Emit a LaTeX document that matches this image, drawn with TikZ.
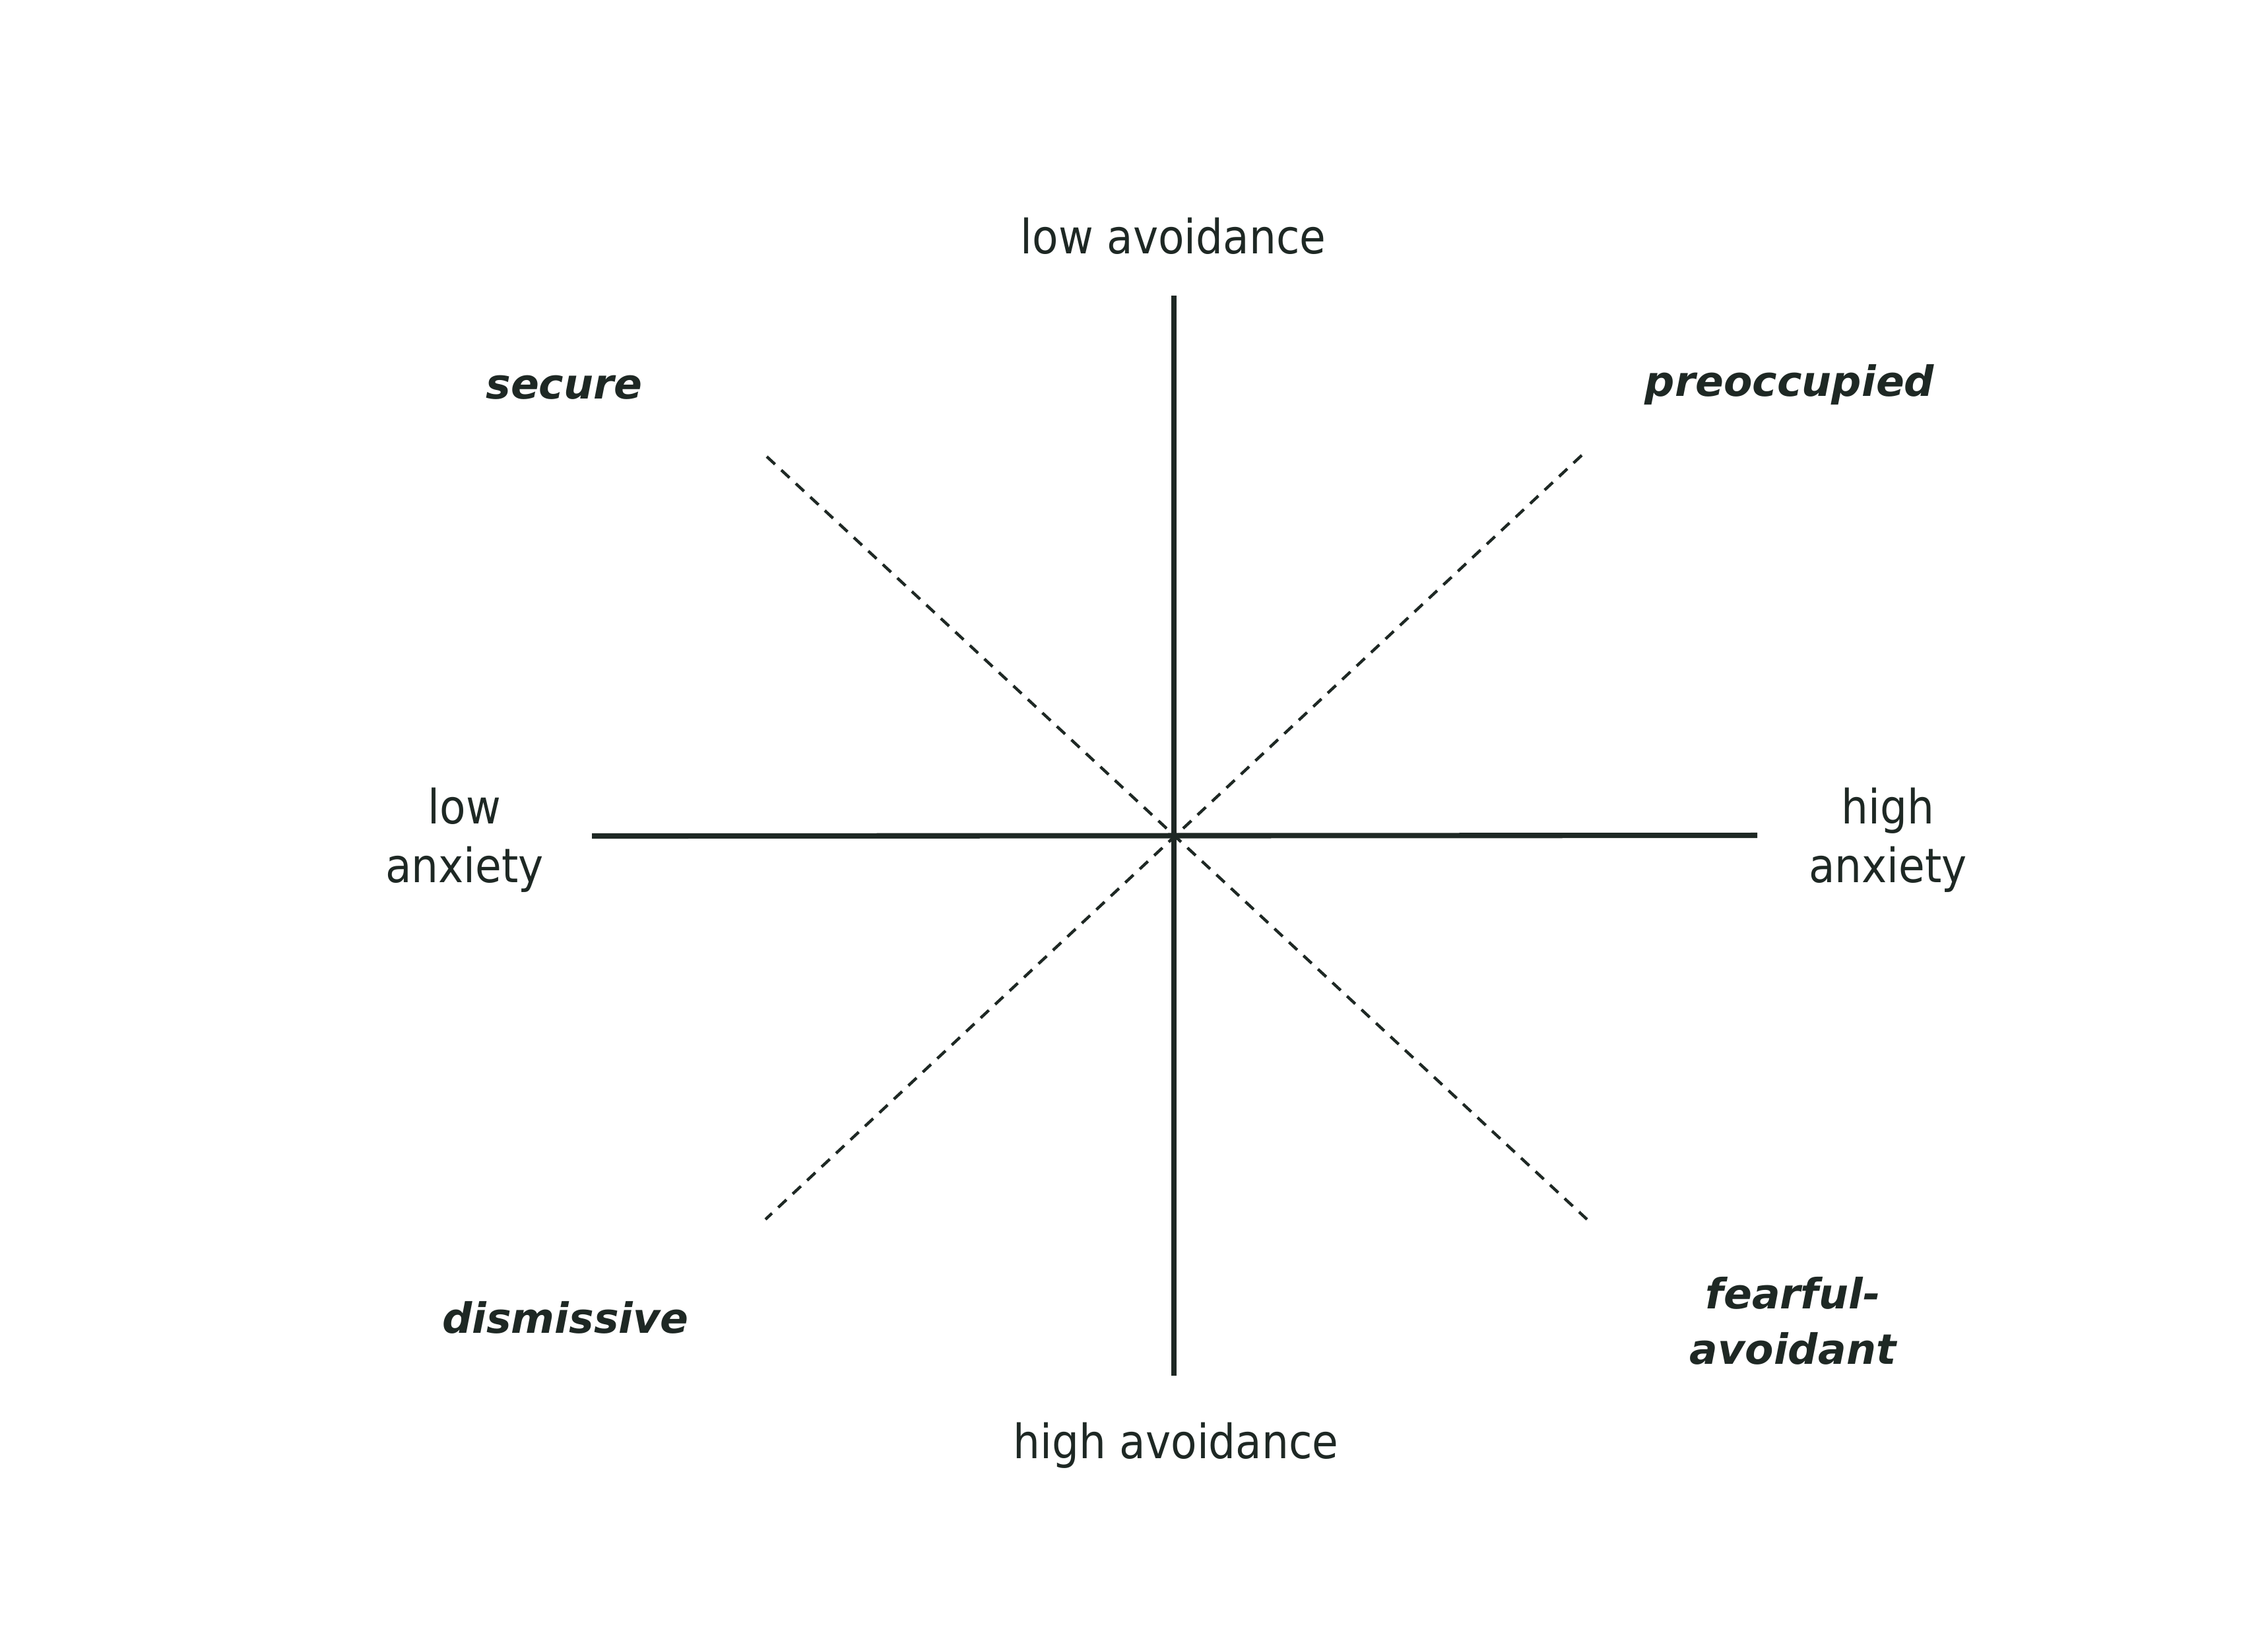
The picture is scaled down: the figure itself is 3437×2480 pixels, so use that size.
\documentclass[tikz,border=0pt]{standalone}
\usepackage{fontspec}
\setmainfont{DejaVu Sans}
\newfontfamily\regfont{DejaVu Sans}[FakeStretch=0.9]
\newfontfamily\lblfont{DejaVu Sans}
\definecolor{ink}{RGB}{30,40,36}
\tikzset{
  axis/.style={draw=ink, line width=2.3pt},
  diag/.style={draw=ink, line width=1.25pt, dash pattern=on 0.17cm off 0.13cm},
  axlabel/.style={text=ink, font=\regfont\fontsize{20.4}{25.3}\selectfont, align=center, anchor=base, inner sep=0pt},
  stylelabel/.style={text=ink, font=\lblfont\bfseries\itshape\fontsize{18}{23.9}\selectfont, align=center, anchor=base, inner sep=0pt}
}
\begin{document}
\begin{tikzpicture}[x=0.01cm,y=-0.01cm]
\fill[white] (0,0) rectangle (3437,2480);
\useasboundingbox (0,0) rectangle (3437,2480);
% axes
\coordinate (vtop) at (1779,448);
\coordinate (vbot) at (1779,2085);
\coordinate (hleft) at (897,1267);
\coordinate (hright) at (2663,1266);
\coordinate (ul) at (1162,692);
\coordinate (lr) at (2405,1848);
\coordinate (ur) at (2397,690);
\coordinate (ll) at (1160,1848);
\draw[diag] (ul) -- (lr);
\draw[diag] (ur) -- (ll);
\draw[axis] (vtop) -- (vbot);
\draw[axis] (hleft) -- (hright);
% axis labels (anchor = baseline of last line)
\node[axlabel] (lowav) at (1778,384) {low avoidance};
\node[axlabel] (highav) at (1782,2210) {high avoidance};
\node[axlabel] (lowanx) at (704,1337) {low\\anxiety};
\node[axlabel] (highanx) at (2861,1337) {high\\anxiety};
% attachment styles
\node[stylelabel] (secure) at (855,604) {secure};
\node[stylelabel] (preocc) at (2712,600) {preoccupied};
\node[stylelabel] (dismiss) at (857,2020) {dismissive};
\node[stylelabel] (fearful) at (2717,2067) {fearful-\\avoidant};
\end{tikzpicture}
\end{document}
